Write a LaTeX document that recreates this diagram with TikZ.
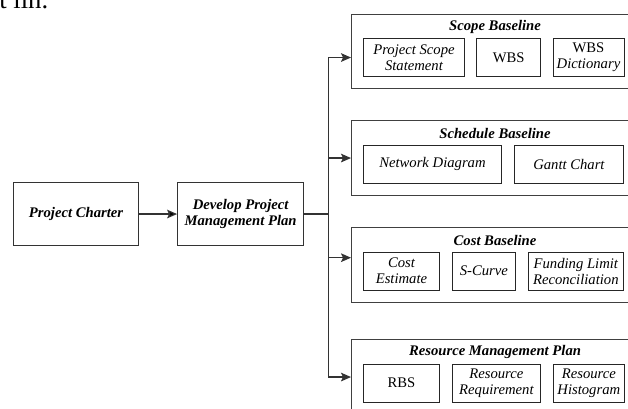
\documentclass[tikz,border=0pt]{standalone}
\usepackage{fontspec}
\setmainfont{Liberation Serif}
\usetikzlibrary{positioning,arrows.meta}

\begin{document}
\begin{tikzpicture}[x=0.75pt,y=-0.75pt,
  every node/.style={font=\fontsize{11}{12.5}\selectfont},
  >={Stealth[length=7.5pt,width=6.5pt,inset=1.5pt]},
  mainbox/.style={rectangle,draw=black!80,line width=0.8pt,minimum height=47.25pt,align=center,font=\fontsize{11}{12.5}\selectfont\bfseries\itshape},
  planbox/.style={rectangle,draw=black!75,line width=0.8pt,minimum width=215.25pt,minimum height=56.25pt,anchor=north west},
  plantitle/.style={inner sep=0pt,font=\fontsize{11}{12.5}\selectfont\bfseries\itshape},
  itembox/.style={rectangle,draw=black!85,line width=0.7pt,minimum height=28.5pt,inner xsep=1.5pt,inner ysep=1pt,align=center,font=\fontsize{11}{12}\selectfont\itshape},
  link/.style={draw=black!80,line width=0.9pt}]
 \useasboundingbox (0,0) rectangle (628,408);

 \node[font=\fontsize{20}{24}\selectfont,anchor=base west,inner sep=0pt] (pagetext) at (-1,8) {t lin.};

 \node[mainbox,minimum width=93.75pt,anchor=north west] (charter) at (13,182) {Project Charter};
 \node[mainbox,minimum width=94.5pt] (develop) [right=28.5pt of charter] {Develop Project\\Management Plan};
 \coordinate (fork) at ([xshift=18pt]develop.east);

 % the four plans
 \node[planbox,minimum height=55.5pt] (scope) at (351,14) {};
 \node[planbox] (schedule) at (351,120) {};
 \node[planbox] (cost) at (351,227) {};
 \node[planbox] (resource) at (351,339) {};

 \node[plantitle] (scopetitle) at ([yshift=-9.75pt]scope.north) {Scope Baseline};
 \node[plantitle] (scheduletitle) at ([yshift=-9.75pt]schedule.north) {Schedule Baseline};
 \node[plantitle] (costtitle) at ([yshift=-9.75pt]cost.north) {Cost Baseline};
 \node[plantitle] (resourcetitle) at ([yshift=-9.75pt]resource.north) {Resource Management Plan};

 % scope baseline
 \node[itembox,minimum width=75.75pt,anchor=north west] (scopestatement) [below right=18pt and 9pt of scope.north west] {Project Scope\\Statement};
 \node[itembox,minimum width=48pt,font=\fontsize{11}{12}\selectfont] (wbs) [right=8.5pt of scopestatement] {WBS};
 \node[itembox,minimum width=53.25pt] (wbsdictionary) [right=8.5pt of wbs] {\upshape WBS\\Dictionary};

 % schedule baseline
 \node[itembox,minimum width=103.5pt,anchor=north west] (network) [below right=18.5pt and 9pt of schedule.north west] {Network Diagram};
 \node[itembox,minimum width=81.75pt] (gantt) [right=9pt of network] {Gantt Chart};

 % cost baseline
 \node[itembox,minimum width=57pt,anchor=north west] (costestimate) [below right=18.5pt and 9pt of cost.north west] {Cost\\Estimate};
 \node[itembox,minimum width=47.25pt] (scurve) [right=9pt of costestimate] {S-Curve};
 \node[itembox,minimum width=71.25pt] (funding) [right=9pt of scurve] {Funding Limit\\Reconciliation};

 % resource management plan
 \node[itembox,minimum width=57pt,anchor=north west,font=\fontsize{11}{12}\selectfont] (rbs) [below right=18.5pt and 9pt of resource.north west] {RBS};
 \node[itembox,minimum width=66pt] (requirement) [right=9pt of rbs] {Resource\\Requirement};
 \node[itembox,minimum width=53.25pt] (histogram) [right=9pt of requirement] {Resource\\Histogram};

\path[link] (charter) edge [->] (develop);
\path[link] (develop.east) -- (fork);
\draw[link,->] (fork) |- ([yshift=-4.5pt]scope.west);
\draw[link,->] (fork) |- (schedule.west);
\draw[link,->] (fork) |- ([yshift=5.5pt]cost.west);
\draw[link,->] (fork) |- (resource.west);
\end{tikzpicture}
\end{document}
